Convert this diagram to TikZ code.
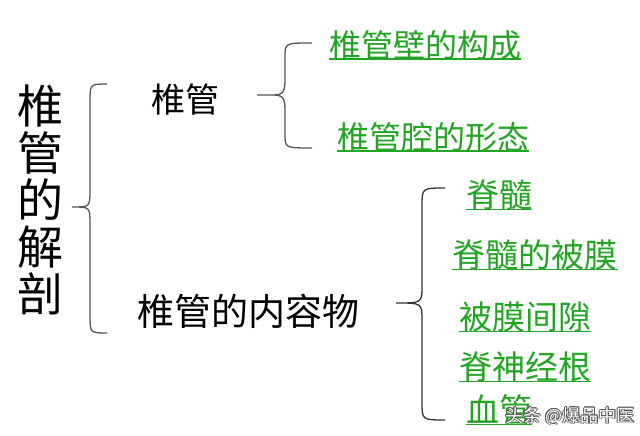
\documentclass[tikz,border=0pt]{standalone}
\usepackage{fontspec}
\newfontfamily\cjk{Noto Sans CJK SC}
\definecolor{lkgreen}{RGB}{34,165,34}
\definecolor{brgray}{RGB}{85,85,85}
\begin{document}
\begin{tikzpicture}[x=1pt,y=-1pt,
  every node/.style={inner sep=0pt, font=\cjk},
  title/.style={text=black, font=\cjk\fontsize{#1}{#1}\selectfont},
  item/.style={text=lkgreen, font=\cjk\fontsize{33}{33}\selectfont},
  uline/.style={draw=lkgreen, line width=1.6pt},
  bracepath/.style={draw=brgray, line width=1.3pt},
  wmark/.style={font=\cjk\fontsize{18}{18}\selectfont}]
\useasboundingbox[fill=white] (0,0) rectangle (640,436);

% root (vertical text)
\node[title=46, align=center, font=\cjk\fontsize{46}{47}\selectfont] (root) at (40,200) {椎\\管\\的\\解\\剖};

% level 1
\node[title=34] (wall) at (185,100) {椎管};
\node[title=37] (cont) at (248,311) {椎管的内容物};

% level 2
\node[item, font=\cjk\fontsize{32}{32}\selectfont] (a1) at (425,45) {椎管壁的构成};
\node[item, font=\cjk\fontsize{32}{32}\selectfont] (a2) at (433,137) {椎管腔的形态};
\node[item] (b1) at (499,195) {脊髓};
\node[item] (b2) at (535,255) {脊髓的被膜};
\node[item] (b3) at (525,317) {被膜间隙};
\node[item] (b4) at (525,367) {脊神经根};
\node[item] (b5) at (499,410) {血管};

% underlines
\foreach \n in {a1,a2,b1,b2,b3,b4,b5}
  \draw[uline] ([yshift=1pt]\n.south west) -- ([yshift=1pt]\n.south east);

% brace coordinates
\coordinate (r0t) at (107,84);  \coordinate (r0m) at (72,207);  \coordinate (r0b) at (107,333);
\coordinate (r1t) at (312,43);  \coordinate (r1m) at (257,95);  \coordinate (r1b) at (312,148);
\coordinate (r2t) at (445,188); \coordinate (r2m) at (396,303); \coordinate (r2b) at (445,420);

% big brace (root)
\draw[bracepath] (r0t) .. controls (90,84) .. (90,102) -- (90,190)
  .. controls (90,207) .. (r0m) .. controls (90,207) .. (90,224) -- (90,315)
  .. controls (90,333) .. (r0b);
% brace 椎管
\draw[bracepath] (r1t) .. controls (285,43) .. (285,57) -- (285,81)
  .. controls (285,95) and (280,95) .. (273,95) -- (r1m)
  (273,95) .. controls (280,95) and (285,95) .. (285,109) -- (285,134)
  .. controls (285,148) .. (r1b);
% brace 内容物
\draw[bracepath, draw=black!80] (r2t) .. controls (422,188) .. (422,206) -- (422,286)
  .. controls (422,303) .. (r2m) .. controls (422,303) .. (422,320) -- (422,402)
  .. controls (422,420) .. (r2b);

% watermark (white text with dark outline)
\foreach \dx/\dy [count=\i] in {0.7/0,-0.7/0,0/0.7,0/-0.7,0.5/0.5,-0.5/0.5,0.5/-0.5,-0.5/-0.5}
  \node[wmark, text=black!65] (wms\i) at (570+\dx,416+\dy) {头条 @爆品中医};
\node[wmark, text=white] (wm) at (570,416) {头条 @爆品中医};
\end{tikzpicture}
\end{document}
